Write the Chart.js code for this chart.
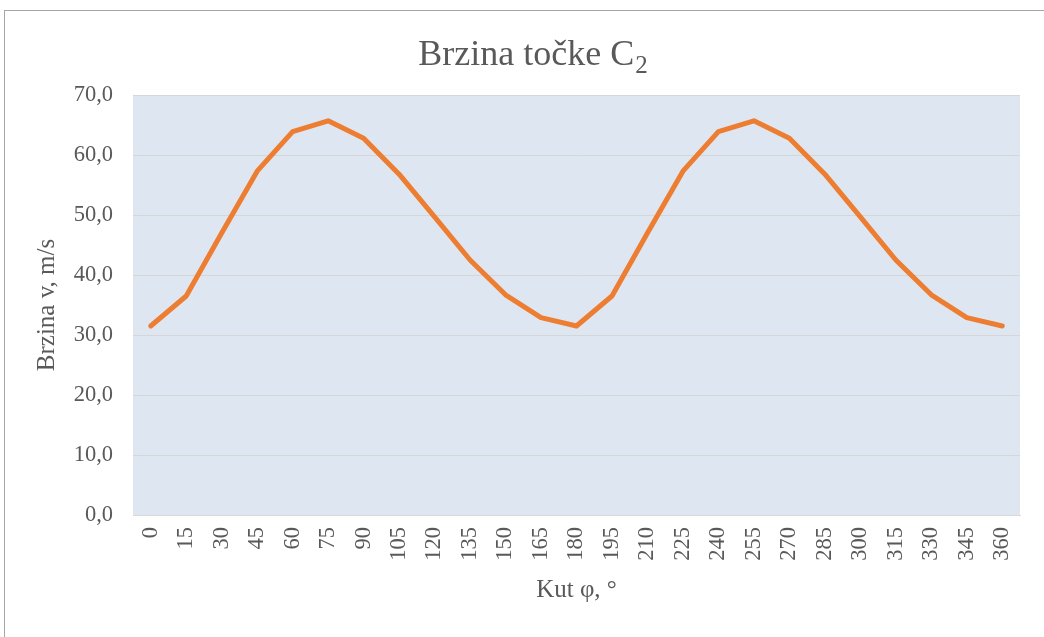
<!DOCTYPE html>
<html>
<head>
<meta charset="utf-8">
<script src="https://cdn.jsdelivr.net/npm/chart.js@4.4.1/dist/chart.umd.min.js"></script>
<style>
  html, body { margin: 0; padding: 0; background: #ffffff; }
  #wrap { width: 1044px; height: 637px; position: relative; }
</style>
</head>
<body>
<div id="wrap"><canvas id="c" width="1044" height="637"></canvas></div>
<script>
const categories = ['0','15','30','45','60','75','90','105','120','135','150','165','180','195','210','225','240','255','270','285','300','315','330','345','360'];
const speedValues = [31.5, 36.5, 47.0, 57.3, 63.9, 65.7, 62.8, 56.8, 49.7, 42.5, 36.7, 32.9, 31.5, 36.5, 47.0, 57.3, 63.9, 65.7, 62.8, 56.8, 49.7, 42.5, 36.7, 32.9, 31.5];
const yTicks = [0, 10, 20, 30, 40, 50, 60, 70];
const titleMain = 'Brzina točke C';
const titleSub = '2';
const xTitle = 'Kut φ, °';
const yTitle = 'Brzina v, m/s';

const FONT = "'Liberation Serif', 'Times New Roman', serif";
const TEXT = '#595959';

const bgPlugin = {
  id: 'bg',
  beforeDraw(chart) {
    const {ctx, chartArea: a} = chart;
    ctx.save();
    ctx.fillStyle = '#ffffff';
    ctx.fillRect(0, 0, chart.width, chart.height);
    ctx.strokeStyle = '#a6a6a6';
    ctx.lineWidth = 1;
    ctx.strokeRect(4.5, 10.5, 2000, 2000);
    ctx.fillStyle = '#dee6f2';
    ctx.fillRect(a.left, a.top, a.right - a.left, a.bottom - a.top);
    ctx.restore();
  },
  afterDraw(chart) {
    const ctx = chart.ctx;
    ctx.save();
    ctx.fillStyle = TEXT;
    ctx.textBaseline = 'alphabetic';
    ctx.font = '36px ' + FONT;
    const w1 = ctx.measureText(titleMain).width;
    ctx.font = '25px ' + FONT;
    const w2 = ctx.measureText(titleSub).width;
    const gap = 1;
    const start = 533 - (w1 + w2 + gap) / 2;
    ctx.font = '36px ' + FONT;
    ctx.textAlign = 'left';
    ctx.fillText(titleMain, start, 65);
    ctx.font = '25px ' + FONT;
    ctx.fillText(titleSub, start + w1 + gap, 73);
    ctx.restore();
  }
};

new Chart(document.getElementById('c'), {
  type: 'line',
  data: {
    labels: categories,
    datasets: [{
      data: speedValues,
      borderColor: '#ed7d31',
      backgroundColor: '#ed7d31',
      borderWidth: 5,
      pointRadius: 0,
      tension: 0,
      borderCapStyle: 'round',
      borderJoinStyle: 'round',
      fill: false
    }]
  },
  options: {
    responsive: false,
    animation: false,
    devicePixelRatio: 1,
    layout: { padding: { left: 28, top: 95, right: 24, bottom: 28 } },
    plugins: {
      legend: { display: false },
      title: { display: false },
      tooltip: { enabled: false }
    },
    scales: {
      x: {
        type: 'category',
        offset: true,
        grid: { display: false, drawTicks: false },
        border: { display: true, color: '#d9d9d9', width: 1 },
        ticks: {
          autoSkip: false,
          minRotation: 90,
          maxRotation: 90,
          padding: 12,
          color: TEXT,
          font: { family: FONT, size: 22.5 }
        },
        title: {
          display: true,
          text: xTitle,
          color: TEXT,
          font: { family: FONT, size: 25 },
          padding: { top: 0, bottom: 4 }
        },
        afterFit(scale) { scale.height = 94; }
      },
      y: {
        min: 0,
        max: 70,
        afterBuildTicks(scale) { scale.ticks = yTicks.map(v => ({ value: v })); },
        grid: { color: '#d6d6d6', lineWidth: 1, drawTicks: false },
        border: { display: false },
        ticks: {
          padding: 20,
          color: TEXT,
          font: { family: FONT, size: 22.5 },
          callback: v => Number(v).toFixed(1).replace('.', ',')
        },
        title: {
          display: true,
          text: yTitle,
          color: TEXT,
          font: { family: FONT, size: 25 },
          padding: { top: 4, bottom: 0 }
        },
        afterFit(scale) { scale.width = 105; }
      }
    }
  },
  plugins: [bgPlugin]
});
</script>
</body>
</html>
